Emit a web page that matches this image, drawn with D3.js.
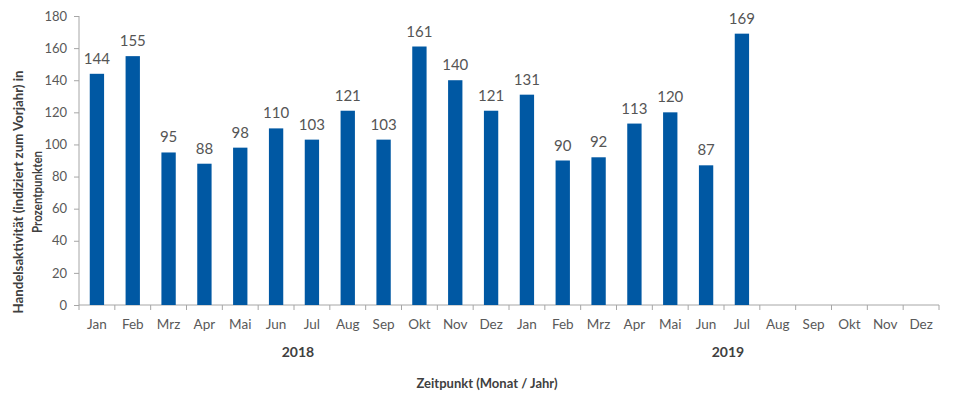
<!DOCTYPE html>
<html>
<head>
<meta charset="utf-8">
<script src="https://cdn.jsdelivr.net/npm/d3@7"></script>
<style>
  body { margin: 0; background: #fff; }
  text { font-family: Lato, "Open Sans", sans-serif; }
</style>
</head>
<body>
<div id="chart"></div>
<script>
var months = ["Jan","Feb","Mrz","Apr","Mai","Jun","Jul","Aug","Sep","Okt","Nov","Dez"];
var years = ["2018", "2019"];
var values2018 = [144, 155, 95, 88, 98, 110, 103, 121, 103, 161, 140, 121];
var values2019 = [131, 90, 92, 113, 120, 87, 169, null, null, null, null, null];
var yTicks = [0, 20, 40, 60, 80, 100, 120, 140, 160, 180];

var data = [];
values2018.forEach(function(v, i) { data.push({key: "2018-" + i, month: months[i], value: v}) });
values2019.forEach(function(v, i) { data.push({key: "2019-" + i, month: months[i], value: v}) });

var margin = {top: 16, right: 18, bottom: 93, left: 79},
    width = 957 - margin.left - margin.right,
    height = 398 - margin.top - margin.bottom;

var svg = d3.select("#chart")
  .append("svg")
    .attr("width", width + margin.left + margin.right)
    .attr("height", height + margin.top + margin.bottom)
  .append("g")
    .attr("transform", "translate(" + margin.left + "," + margin.top + ")");

var x = d3.scaleBand()
  .domain(data.map(function(d) { return d.key }))
  .range([0, width])
  .paddingInner(0.6)
  .paddingOuter(0.3);

// band boundaries (for tick marks and year labels)
var step = x.step();
var edge = function(i) { return x(data[i].key) - x.paddingInner() * step / 2 };

var y = d3.scaleLinear()
  .domain([0, 180])
  .range([height, 0]);

// Y axis
var yAxis = svg.append("g")
  .call(d3.axisLeft(y).tickValues(yTicks).tickSize(5).tickPadding(7));
yAxis.select(".domain").attr("stroke", "#a6a6a6").attr("d", "M0," + height + "V0");
yAxis.selectAll(".tick line").attr("stroke", "#a6a6a6");
yAxis.selectAll(".tick text").attr("fill", "#595959").style("font-size", "13px")
  .style("font-family", "Lato, sans-serif");

// X axis
var xAxis = svg.append("g")
  .attr("transform", "translate(0," + height + ")")
  .call(d3.axisBottom(x).tickSize(0).tickPadding(14)
    .tickFormat(function(k) { return months[+k.split("-")[1]] }));
xAxis.select(".domain").attr("stroke", "#a6a6a6").attr("d", "M0,0H" + width);
xAxis.selectAll(".tick text").attr("fill", "#595959").style("font-size", "13.5px")
  .style("font-family", "Lato, sans-serif");

var bounds = d3.range(data.length).map(edge).concat([width]);
svg.append("g")
  .selectAll("line")
  .data(bounds)
  .enter()
  .append("line")
    .attr("x1", function(d) { return d })
    .attr("x2", function(d) { return d })
    .attr("y1", height)
    .attr("y2", height + 5)
    .attr("stroke", "#a6a6a6");

// Year labels
svg.selectAll(".year")
  .data(years)
  .enter()
  .append("text")
    .attr("class", "year")
    .attr("x", function(d, i) { return (edge(i * 12) + (i == 0 ? edge(12) : width)) / 2 + 4 })
    .attr("y", height + 52)
    .attr("text-anchor", "middle")
    .attr("fill", "#404040")
    .style("font-size", "14px")
    .style("font-weight", "bold")
    .text(function(d) { return d });

// Bars
var valid = data.filter(function(d) { return d.value != null });
svg.append("g")
  .selectAll("rect")
  .data(valid)
  .enter()
  .append("rect")
    .attr("x", function(d) { return x(d.key) })
    .attr("y", function(d) { return y(d.value) })
    .attr("width", x.bandwidth())
    .attr("height", function(d) { return height - y(d.value) })
    .attr("fill", "#0058a3");

// Value labels
svg.append("g")
  .selectAll("text")
  .data(valid)
  .enter()
  .append("text")
    .attr("x", function(d) { return x(d.key) + x.bandwidth() / 2 })
    .attr("y", function(d) { return y(d.value) - 10 })
    .attr("text-anchor", "middle")
    .attr("fill", "#555555")
    .style("font-size", "15px")
    .text(function(d) { return d.value });

// Y axis title
var yTitle = svg.append("text")
  .attr("transform", "translate(" + (-margin.left + 23) + "," + 176 + ") rotate(-90)")
  .attr("text-anchor", "middle")
  .attr("fill", "#404040")
  .style("font-size", "13px")
  .style("font-weight", "bold");
yTitle.append("tspan")
  .attr("x", 0).attr("y", 0)
  .attr("textLength", 243).attr("lengthAdjust", "spacingAndGlyphs")
  .text("Handelsaktivität (indiziert zum Vorjahr) in");
yTitle.append("tspan")
  .attr("x", 0).attr("y", 19)
  .attr("textLength", 82).attr("lengthAdjust", "spacingAndGlyphs")
  .text("Prozentpunkten");

// X axis title
svg.append("text")
  .attr("x", 487 - margin.left)
  .attr("y", height + 83)
  .attr("text-anchor", "middle")
  .attr("fill", "#404040")
  .style("font-size", "13px")
  .style("font-weight", "bold")
  .attr("textLength", 141)
  .attr("lengthAdjust", "spacingAndGlyphs")
  .text("Zeitpunkt (Monat / Jahr)");
</script>
</body>
</html>
